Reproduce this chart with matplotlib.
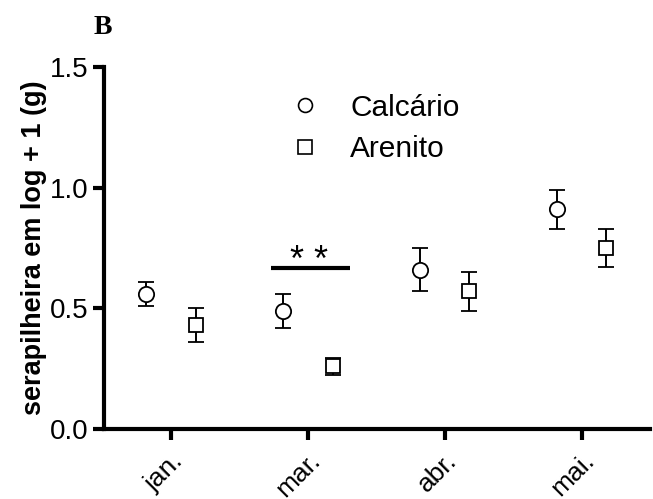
import matplotlib
matplotlib.use("Agg")
import matplotlib.pyplot as plt
import matplotlib.transforms as mtransforms
from matplotlib.lines import Line2D
import numpy as np

months = ["jan.", "mar.", "abr.", "mai."]
calcario_mean = [0.56, 0.49, 0.66, 0.91]
calcario_err = [0.05, 0.07, 0.09, 0.08]
arenito_mean = [0.43, 0.26, 0.57, 0.75]
arenito_err = [0.07, 0.035, 0.08, 0.08]
yticks = [0.0, 0.5, 1.0, 1.5]

plt.rcParams["font.family"] = ["Liberation Sans", "DejaVu Sans"]

fig = plt.figure(figsize=(6.53, 4.99), dpi=100)
ax = fig.add_axes([104 / 653, 1 - 429 / 499, (650 - 104) / 653, (429 - 67) / 499])

x = np.arange(len(months))
off = 0.18
ekw = dict(ls="none", color="black", ecolor="black", elinewidth=1.4,
           capsize=6, capthick=1.4, mfc="white", mec="black", mew=1.3, ms=11)
ax.errorbar(x - off, calcario_mean, yerr=calcario_err, marker="o", **ekw)
ax.errorbar(x + off, arenito_mean, yerr=arenito_err, marker="s",
            **{**ekw, "ms": 10})

# significance bar over March
ax.plot([1 - 0.27, 1 + 0.31], [0.667, 0.667], color="black", lw=3,
        solid_capstyle="butt")
ax.text(1.01, 0.655, "* *", ha="center", va="baseline", fontsize=26)

ax.set_xlim(-0.49, 3.5)
ax.set_ylim(0, 1.5)
ax.set_xticks(x)
ax.set_xticklabels(months, rotation=45, ha="right", rotation_mode="anchor",
                   fontsize=19)
shift = mtransforms.ScaledTranslation(-9 / 100, -4 / 100, fig.dpi_scale_trans)
for lbl in ax.get_xticklabels():
    lbl.set_transform(lbl.get_transform() + shift)
ax.set_yticks(yticks)
ax.set_yticklabels([f"{v:.1f}" for v in yticks], fontsize=20)
ax.tick_params(axis="both", width=3, length=8, direction="out")
ax.tick_params(axis="x", pad=6)
ax.tick_params(axis="y", pad=3)
for s in ["top", "right"]:
    ax.spines[s].set_visible(False)
for s in ["left", "bottom"]:
    ax.spines[s].set_linewidth(3)

ax.set_ylabel("serapilheira em log + 1 (g)", fontsize=19.5, fontweight="bold",
              labelpad=2)

handles = [
    Line2D([], [], ls="none", marker="o", ms=10, mfc="white", mec="black", mew=1.2),
    Line2D([], [], ls="none", marker="s", ms=10, mfc="white", mec="black", mew=1.2),
]
ax.legend(handles, ["Calcário", "Arenito"], loc="upper left",
          bbox_to_anchor=(0.287, 1.0), frameon=False, fontsize=21.5,
          handletextpad=0.9, labelspacing=0.45, handlelength=1.2)

fig.text(94 / 653, 1 - 27 / 499, "B", fontsize=20, fontweight="bold",
         family="Liberation Serif", ha="left", va="center")

fig.savefig("out.png", dpi=100)
